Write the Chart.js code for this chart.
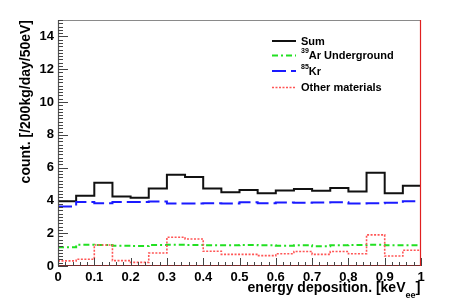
<!DOCTYPE html>
<html>
<head>
<meta charset="utf-8">
<script src="https://cdn.jsdelivr.net/npm/chart.js@4/dist/chart.umd.min.js"></script>
<style>
html,body{margin:0;padding:0;background:#fff;}
#wrap{width:454px;height:307px;}
</style>
</head>
<body>
<div id="wrap"><canvas id="c" width="454" height="307"></canvas></div>
<script>
// Bin lower edges (keV_ee), plus final upper edge
const binEdges = [0,0.05,0.1,0.15,0.2,0.25,0.3,0.35,0.4,0.45,0.5,0.55,0.6,0.65,0.7,0.75,0.8,0.85,0.9,0.95,1.0];
const sumCounts   = [3.95,4.28,5.07,4.24,4.16,4.73,5.56,5.42,4.73,4.50,4.63,4.44,4.60,4.69,4.59,4.75,4.54,5.69,4.44,4.89];
const ar39Counts  = [1.14,1.30,1.28,1.24,1.22,1.28,1.30,1.28,1.26,1.26,1.28,1.26,1.24,1.26,1.20,1.26,1.28,1.30,1.26,1.26];
const kr85Counts  = [3.63,3.91,3.83,3.91,3.91,3.93,3.81,3.81,3.83,3.81,3.89,3.83,3.87,3.85,3.87,3.89,3.81,3.83,3.85,3.95];
const otherCounts = [0.31,0.41,1.28,0.33,0.22,0.79,1.75,1.65,0.90,0.71,0.71,0.63,0.75,0.88,0.71,0.88,0.75,1.90,0.61,0.96];
const xTickLabels = ["0","0.1","0.2","0.3","0.4","0.5","0.6","0.7","0.8","0.9","1"];
const xTickValues = [0,0.1,0.2,0.3,0.4,0.5,0.6,0.7,0.8,0.9,1];
const yTickValues = [0,2,4,6,8,10,12,14];
const xTitle = "energy deposition. [keV";
const xTitleSub = "ee";
const yTitle = "count. [/200kg/day/50eV]";

function histPoints(vals){
  const pts = vals.map((v,i)=>({x:binEdges[i], y:v}));
  pts.push({x:binEdges[vals.length], y:vals[vals.length-1]});
  return pts;
}

const BOLD = '"Liberation Sans", Arial, Helvetica, sans-serif';

const legendItems = [
  {sup:"", text:"Sum", color:"#111", dash:[], width:2},
  {sup:"39", text:"Ar Underground", color:"#22e022", dash:[6,3,2,3], width:2},
  {sup:"85", text:"Kr", color:"#1a1aff", dash:[14,5], width:2},
  {sup:"", text:"Other materials", color:"#ff5555", dash:[2,1.5], width:1.6}
];

const deco = {
  id:'deco',
  afterDatasetsDraw(chart){
    const ctx = chart.ctx, a = chart.chartArea;
    const xs = chart.scales.x, ys = chart.scales.y;
    ctx.save();
    // frame
    ctx.lineWidth = 1.2;
    ctx.strokeStyle = '#8a8a8a';
    ctx.beginPath(); ctx.moveTo(a.left, a.top+0.5); ctx.lineTo(a.right, a.top+0.5); ctx.stroke();
    ctx.strokeStyle = '#555';
    ctx.beginPath(); ctx.moveTo(a.left+0.5, a.top); ctx.lineTo(a.left+0.5, a.bottom); ctx.stroke();
    ctx.strokeStyle = '#7a2a2a';
    ctx.beginPath(); ctx.moveTo(a.left, a.bottom-0.5); ctx.lineTo(a.right, a.bottom-0.5); ctx.stroke();
    ctx.strokeStyle = '#e02020';
    ctx.beginPath(); ctx.moveTo(a.right-0.5, a.top); ctx.lineTo(a.right-0.5, a.bottom); ctx.stroke();
    // ticks
    ctx.strokeStyle = '#444';
    ctx.lineWidth = 1;
    ctx.beginPath();
    for(let k=0;k<=75;k++){
      const v = k*0.2; if (v>15.001) break;
      const isMajor = (k%10===0);
      const py = Math.round(ys.getPixelForValue(v))+0.5;
      ctx.moveTo(a.left, py); ctx.lineTo(a.left + (isMajor?10:5), py);
    }
    ctx.stroke();
    ctx.beginPath();
    for(let k=0;k<=50;k++){
      const v = k*0.02;
      const isMajor = (k%5===0);
      const px = Math.round(xs.getPixelForValue(v))+0.5;
      ctx.moveTo(px, a.bottom); ctx.lineTo(px, a.bottom - (isMajor?8:4));
    }
    ctx.stroke();
    // legend
    let ly = [41,55.5,71,87.5];
    legendItems.forEach((it,i)=>{
      ctx.strokeStyle = it.color; ctx.lineWidth = it.width; ctx.setLineDash(it.dash);
      ctx.beginPath(); ctx.moveTo(272, ly[i]); ctx.lineTo(296, ly[i]); ctx.stroke();
      ctx.setLineDash([]);
      ctx.fillStyle = '#000';
      ctx.textBaseline = 'middle'; ctx.textAlign = 'left';
      let tx = 301;
      if (it.sup){
        ctx.font = 'bold 7px ' + BOLD;
        ctx.fillText(it.sup, tx, ly[i]-4);
        tx += ctx.measureText(it.sup).width;
      }
      ctx.font = 'bold 11px ' + BOLD;
      ctx.fillText(it.text, tx, ly[i]+0.5);
    });
    // x title
    ctx.fillStyle = '#000';
    ctx.textBaseline = 'alphabetic';
    ctx.textAlign = 'left';
    ctx.font = 'bold 14px ' + BOLD;
    const w1 = ctx.measureText(xTitle).width;
    ctx.font = 'bold 9px ' + BOLD;
    const w2 = ctx.measureText(xTitleSub).width;
    ctx.font = 'bold 15px ' + BOLD;
    const w3 = ctx.measureText("]").width;
    let x0 = a.right - (w1+w2+w3) - 0.5;
    ctx.font = 'bold 14px ' + BOLD;
    ctx.fillText(xTitle, x0, 292);
    ctx.font = 'bold 9px ' + BOLD;
    ctx.fillText(xTitleSub, x0+w1, 298);
    ctx.font = 'bold 15px ' + BOLD;
    ctx.fillText("]", x0+w1+w2, 292);
    // y title
    ctx.translate(30, a.top);
    ctx.rotate(-Math.PI/2);
    ctx.textAlign = 'right';
    ctx.font = 'bold 14px ' + BOLD;
    ctx.fillText(yTitle, 0, 0);
    ctx.restore();
  }
};

function ds(label, vals, color, dash, width){
  return {label, data: histPoints(vals), borderColor: color, borderDash: dash, borderWidth: width,
          stepped: 'before', pointRadius: 0, fill: false, tension: 0, borderCapStyle:'butt'};
}

new Chart(document.getElementById('c'), {
  type: 'line',
  data: {
    datasets: [
      ds('Other materials', otherCounts, '#ff5555', [2,1.5], 1.6),
      ds('39Ar Underground', ar39Counts, '#22e022', [6,3,2,3], 2),
      ds('85Kr', kr85Counts, '#1a1aff', [14,5], 2),
      ds('Sum', sumCounts, '#111', [], 2)
    ]
  },
  options: {
    responsive: false,
    animation: false,
    devicePixelRatio: 1,
    layout: {padding: {top: 20, right: 33, left: 0, bottom: 0}},
    plugins: {legend: {display: false}, tooltip: {enabled: false}},
    scales: {
      x: {
        type: 'linear', min: 0, max: 1,
        grid: {display: false, drawTicks: false},
        border: {display: false},
        afterBuildTicks: s => { s.ticks = xTickValues.map(v=>({value:v})); },
        afterFit: s => { s.height = 41; },
        ticks: {
          padding: 4, maxRotation: 0, autoSkip: false, color: '#000',
          font: {family: BOLD, size: 13, weight: 'bold'},
          callback: (v, i) => xTickLabels[i]
        }
      },
      y: {
        type: 'linear', min: 0, max: 15,
        grid: {display: false, drawTicks: false},
        border: {display: false},
        afterBuildTicks: s => { s.ticks = yTickValues.map(v=>({value:v})); },
        afterFit: s => { s.width = 58; },
        ticks: {
          padding: 4, autoSkip: false, color: '#000',
          font: {family: BOLD, size: 13, weight: 'bold'},
          callback: v => String(v)
        }
      }
    }
  },
  plugins: [deco]
});
</script>
</body>
</html>
